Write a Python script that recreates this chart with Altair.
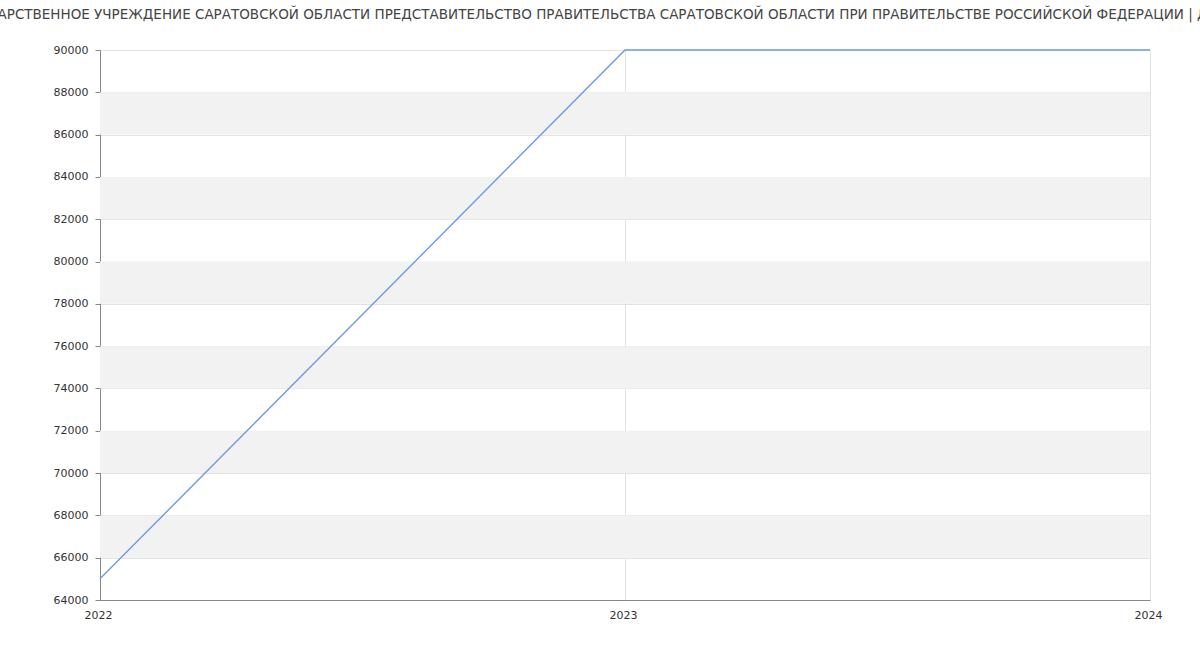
import altair as alt
import pandas as pd

years = [2022, 2023, 2024]
salary = [65000, 90000, 90000]
band_lo = [66000, 70000, 74000, 78000, 82000, 86000]
band_hi = [68000, 72000, 76000, 80000, 84000, 88000]
y_ticks = list(range(64000, 90001, 2000))
title_text = ("ГОСУДАРСТВЕННОЕ УЧРЕЖДЕНИЕ САРАТОВСКОЙ ОБЛАСТИ ПРЕДСТАВИТЕЛЬСТВО "
              "ПРАВИТЕЛЬСТВА САРАТОВСКОЙ ОБЛАСТИ ПРИ ПРАВИТЕЛЬСТВЕ РОССИЙСКОЙ ФЕДЕРАЦИИ | ДАННЫЕ")

line_df = pd.DataFrame({"year": years, "salary": salary})
band_df = pd.DataFrame({"lo": band_lo, "hi": band_hi})

xscale = alt.Scale(domain=[2022, 2024], nice=False)
yscale = alt.Scale(domain=[64000, 90000], nice=False, zero=False)

bands = alt.Chart(band_df).mark_rect(color="#f2f2f2").encode(
    x=alt.value(0), x2=alt.value(1050),
    y=alt.Y("lo:Q", scale=yscale, axis=alt.Axis(
        values=y_ticks, format="d", title=None, grid=True, gridColor="#e3e3e3",
        domainColor="#888888", tickColor="#888888", tickSize=5,
        labelColor="#333333", labelFontSize=11, labelFont="DejaVu Sans", labelPadding=7)),
    y2="hi:Q",
)

line = alt.Chart(line_df).mark_line(color="#6a9be8", strokeWidth=1.4).encode(
    x=alt.X("year:Q", scale=xscale, axis=alt.Axis(
        tickCount=2, format="d", title=None, grid=True, gridColor="#e3e3e3",
        domainColor="#888888", ticks=False, labelOverlap=False,
        labelColor="#333333", labelFontSize=11, labelFont="DejaVu Sans", labelPadding=9,
        labelFlush=False, labelOffset=-2)),
    y=alt.Y("salary:Q", scale=yscale),
)

chart = alt.layer(bands, line).properties(
    width=1050, height=550,
    autosize=alt.AutoSizeParams(type="none"),
    padding={"left": 100, "top": 50, "right": 50, "bottom": 50},
    title=alt.TitleParams(title_text, anchor="middle", fontSize=13.5, font="DejaVu Sans",
                          fontWeight="normal", color="#444444", offset=23, dx=-21),
).configure_view(stroke=None)

chart.save("out.html", embed_options={"renderer": "svg", "actions": False})
